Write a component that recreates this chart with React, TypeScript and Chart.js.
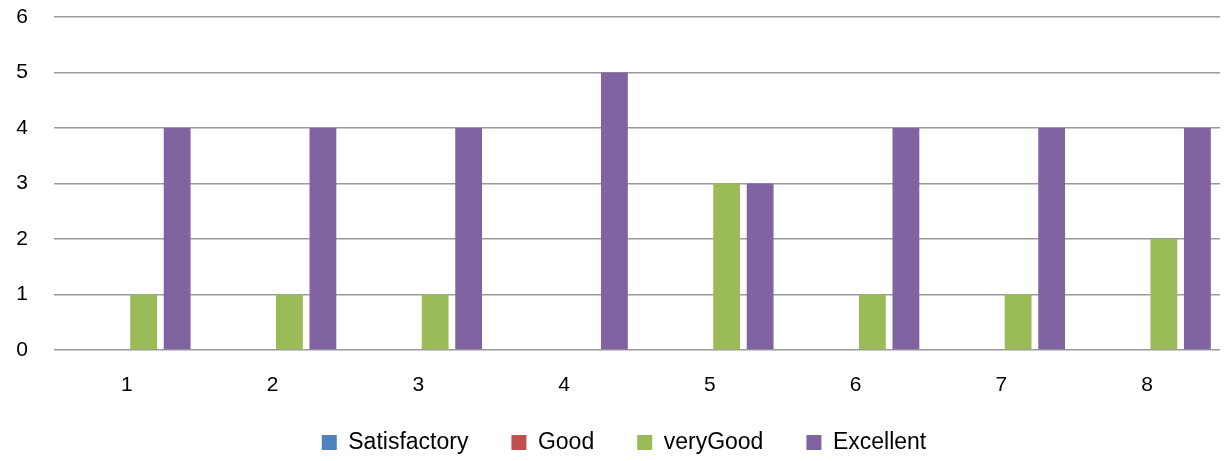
import { useEffect, useRef } from "react";
import { Chart, registerables } from "chart.js";

Chart.register(...registerables);

const categories = ["1", "2", "3", "4", "5", "6", "7", "8"];
const satisfactory = [0, 0, 0, 0, 0, 0, 0, 0];
const good = [0, 0, 0, 0, 0, 0, 0, 0];
const veryGood = [1, 1, 1, 0, 3, 1, 1, 2];
const excellent = [4, 4, 4, 5, 3, 4, 4, 4];
const yMin = 0;
const yMax = 6;
const yStep = 1;

const FONT = "'Liberation Sans', Arial, sans-serif";

export default function App() {
  const ref = useRef<HTMLCanvasElement | null>(null);

  useEffect(() => {
    document.body.style.margin = "0";
    const canvas = ref.current;
    if (!canvas) return;
    const chart = new Chart(canvas, {
      type: "bar",
      data: {
        labels: categories,
        datasets: [
          { label: "Satisfactory", data: satisfactory, backgroundColor: "#4F81BD" },
          { label: "Good", data: good, backgroundColor: "#C0504D" },
          { label: "veryGood", data: veryGood, backgroundColor: "#9BBB59" },
          { label: "Excellent", data: excellent, backgroundColor: "#8064A2" },
        ],
      },
      options: {
        responsive: false,
        animation: false,
        events: [],
        layout: { padding: { left: 28, right: 4, top: 17, bottom: 0 } },
        datasets: {
          bar: { categoryPercentage: 0.92, barPercentage: 0.8, borderWidth: 0 },
        },
        scales: {
          x: {
            grid: { display: false, drawTicks: false },
            border: { display: false },
            ticks: {
              color: "#000",
              padding: 23,
              font: { family: FONT, size: 21 },
            },
            afterFit: (s: any) => {
              s.height = 38;
              s._computeLabelArea = () => undefined;
            },
          },
          y: {
            min: yMin,
            max: yMax,
            grid: {
              color: "#9a9a9a",
              lineWidth: 1.5,
              drawTicks: true,
              tickLength: 26,
              tickColor: "rgba(0,0,0,0)",
            },
            border: { display: false },
            ticks: {
              stepSize: yStep,
              color: "#000",
              padding: 0,
              font: { family: FONT, size: 21 },
            },
            afterFit: (s: any) => {
              s.width = 26;
              s._computeLabelArea = () => undefined;
            },
          },
        },
        plugins: {
          tooltip: { enabled: false },
          title: { display: false },
          legend: {
            position: "bottom",
            maxHeight: 73,
            labels: {
              boxWidth: 15,
              boxHeight: 15,
              padding: 43,
              color: "#000",
              font: { family: FONT, size: 23 },
            },
          },
        },
      },
    });
    return () => chart.destroy();
  }, []);

  return (
    <div style={{ width: 1224, height: 461 }}>
      <canvas ref={ref} width={1224} height={461} style={{ display: "block" }} />
    </div>
  );
}
